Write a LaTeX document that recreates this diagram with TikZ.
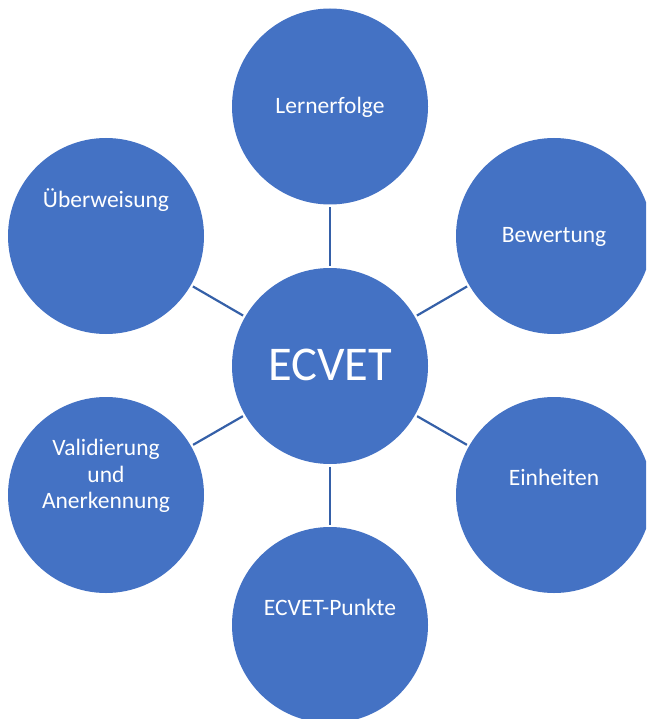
\documentclass[tikz,border=0pt]{standalone}
\usepackage{fontspec}
\setmainfont{Carlito}
\usetikzlibrary{calc}
\definecolor{bubble}{HTML}{4472C4}
\definecolor{spoke}{HTML}{3560A8}
\begin{document}
\begin{tikzpicture}[x=1pt,y=-1pt,
  bubble/.style={circle,fill=bubble,draw=none,minimum size=196pt,inner sep=0pt,outer sep=0pt},
  caption/.style={text=white,align=center,inner sep=0pt,font=\fontsize{23.5}{26.5}\selectfont},
  spokeline/.style={draw=spoke,line width=2.2pt,shorten <=2.5pt,shorten >=2.5pt}]
  \useasboundingbox (0,0) rectangle (646,719);
  \clip (0,0) rectangle (646,719);

  % hub and the six surrounding topics
  \node[bubble] (hub)  at (330,366) {};
  \node[bubble] (lern) at (330,106.5) {};
  \node[bubble] (bew)  at (554,236) {};
  \node[bubble] (ein)  at (554,495) {};
  \node[bubble] (pkt)  at (330,625) {};
  \node[bubble] (val)  at (106,495) {};
  \node[bubble] (ueb)  at (106,236) {};

  % spokes
  \foreach \t in {lern,bew,ein,pkt,val,ueb}
    \draw[spokeline] (hub) -- (\t);

  % labels
  \node[caption,font=\fontsize{48.5}{52}\selectfont] (hubtxt) at (330,364.5) {ECVET};
  \node[caption] (lerntxt) at (330,107) {Lernerfolge};
  \node[caption] (bewtxt)  at (554,236.5) {Bewertung};
  \node[caption] (eintxt)  at (554,477) {Einheiten};
  \node[caption] (pkttxt)  at (330,607) {ECVET-Punkte};
  \node[caption] (valtxt)  at (106,476) {Validierung\\und\\Anerkennung};
  \node[caption] (uebtxt)  at (106,200) {Überweisung};
\end{tikzpicture}
\end{document}
